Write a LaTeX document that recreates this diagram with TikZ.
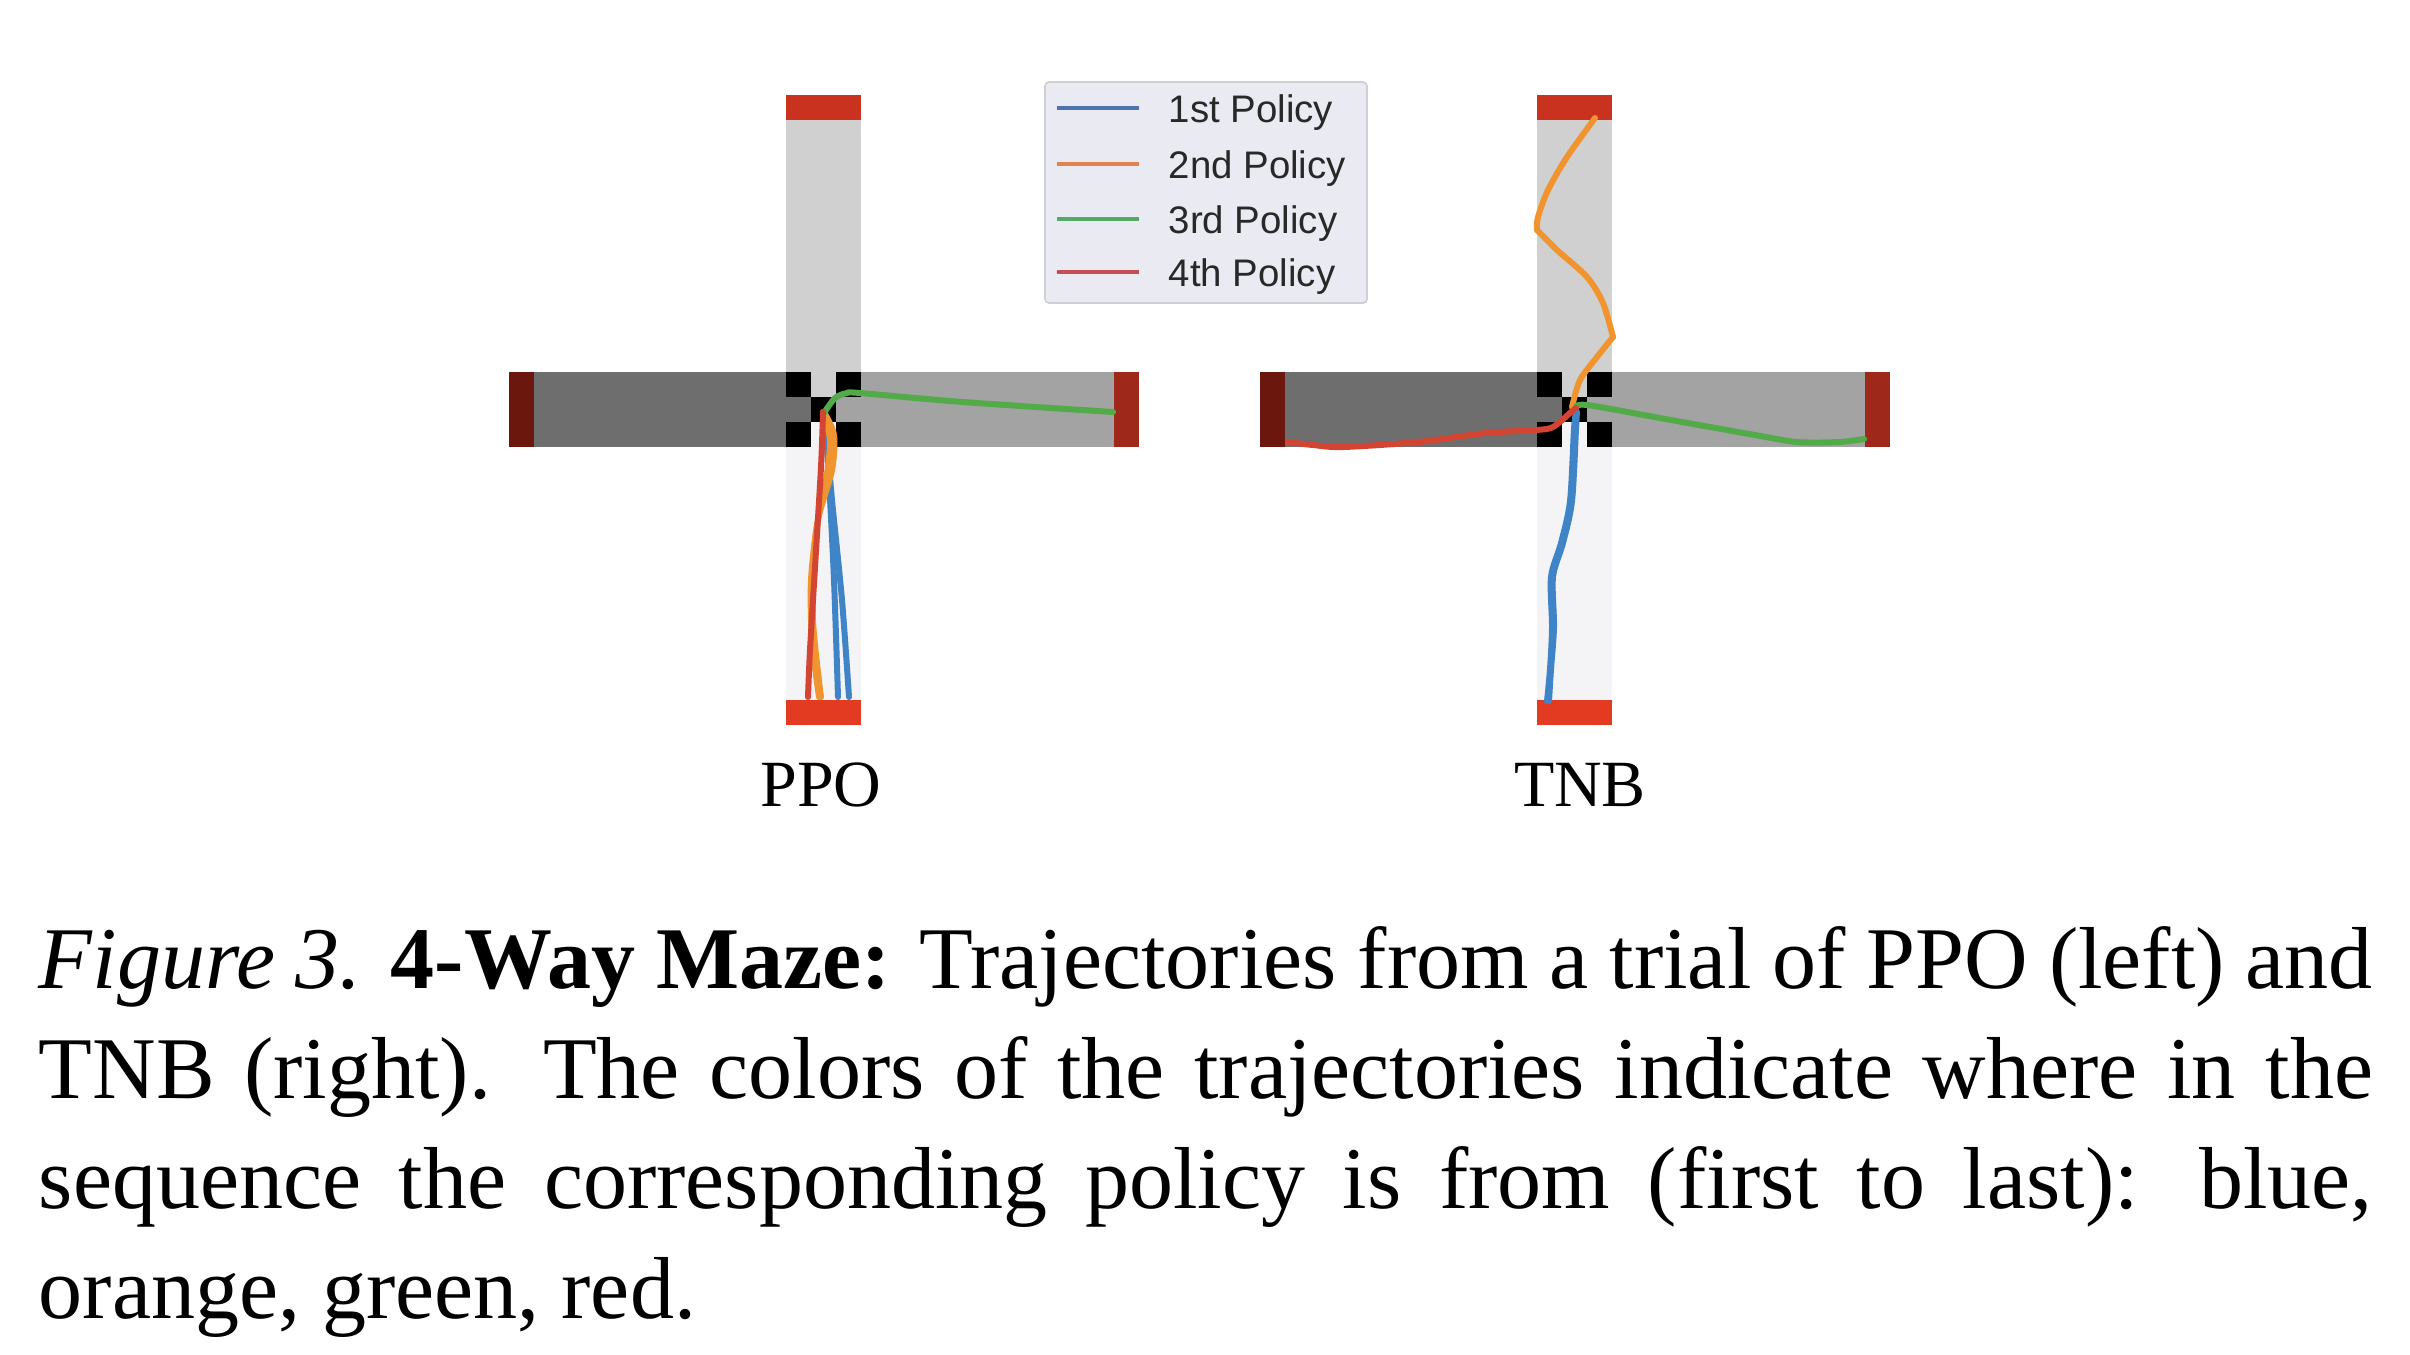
\documentclass[tikz,border=0pt]{standalone}
\usepackage{fontspec}
\setmainfont{Liberation Serif}
\newfontfamily\legendfont{Liberation Sans}
\usetikzlibrary{positioning}

% maze colours
\definecolor{captop}{RGB}{201,50,31}
\definecolor{capleft}{RGB}{107,23,13}
\definecolor{capright}{RGB}{158,40,25}
\definecolor{capbot}{RGB}{227,58,34}
\definecolor{armtop}{RGB}{208,208,208}
\definecolor{armleft}{RGB}{110,110,110}
\definecolor{armright}{RGB}{163,163,163}
\definecolor{armbot}{RGB}{244,244,246}
% policy colours
\definecolor{polA}{RGB}{62,132,198}
\definecolor{polB}{RGB}{240,148,48}
\definecolor{polC}{RGB}{82,170,72}
\definecolor{polD}{RGB}{212,68,50}
\definecolor{legA}{RGB}{76,114,176}
\definecolor{legB}{RGB}{221,132,82}
\definecolor{legC}{RGB}{85,168,104}
\definecolor{legD}{RGB}{196,78,82}
\definecolor{legbg}{RGB}{234,234,242}
\definecolor{legedge}{RGB}{206,206,212}

% one 4-way maze, drawn round the origin
\newcommand{\mazecross}{%
  \fill[armtop]   (-37.5,-290) rectangle (37.5,-37.5);
  \fill[armbot]   (-37.5,37.5) rectangle (37.5,290);
  \fill[armleft]  (-290,-37.5) rectangle (-37.5,37.5);
  \fill[armright] (37.5,-37.5) rectangle (290,37.5);
  \fill[captop]   (-37.5,-315) rectangle (37.5,-290);
  \fill[capbot]   (-37.5,290) rectangle (37.5,315);
  \fill[capleft]  (-315,-37.5) rectangle (-290,37.5);
  \fill[capright] (290,-37.5) rectangle (315,37.5);
  \fill[armtop]   (-12.5,-37.5) rectangle (12.5,-12.5);
  \fill[armbot]   (-12.5,12.5) rectangle (12.5,37.5);
  \fill[armleft]  (-37.5,-12.5) rectangle (-12.5,12.5);
  \fill[armright] (12.5,-12.5) rectangle (37.5,12.5);
  \foreach \i/\j in {-1/-1, 1/-1, 0/0, -1/1, 1/1}
    \fill[black] (\i*25-12.5,\j*25-12.5) rectangle ++(25,25);
}

\begin{document}
\begin{tikzpicture}[
  x=0.25pt, y=-0.25pt,
  traj/.style    = {line width=1.5pt, line cap=round, line join=round},
  legline/.style = {line width=1pt},
  legtext/.style = {anchor=base west, inner sep=0pt, text={rgb,255:red,40;green,40;blue,40},
                    font=\legendfont\fontsize{9.6}{11}\selectfont},
  title/.style   = {anchor=base, inner sep=0pt, font=\fontsize{16.5}{20}\selectfont},
]
  \useasboundingbox[fill=white] (0,0) rectangle (2410,1354);

  % mazes
  \begin{scope}[shift={(823.5,409.5)}]
    \mazecross
  \end{scope}
  \begin{scope}[shift={(1574.5,409.5)}]
    \mazecross
  \end{scope}

  % PPO trajectories
  \draw[traj, polA] plot[smooth] coordinates {(826,430) (829,480) (834,580) (838,697)};
  \draw[traj, polA] plot[smooth] coordinates {(826,430) (832,500) (842,600) (849,697)};
  \draw[traj, polB] plot[smooth] coordinates {(824,412) (834,435) (832,470) (818,520) (811,580) (812,640) (819,697)};
  \draw[traj, polB] plot[smooth] coordinates {(823,412) (830,440) (826,480) (815,540) (813,620) (821,697)};
  \draw[traj, polC] plot[smooth] coordinates {(824,413) (835,398) (847,393) (860,393) (963,402) (1113,412)};
  \draw[traj, polD] plot[smooth] coordinates {(823,412) (821,467) (815,567) (810,650) (808,697)};

  % TNB trajectories
  \draw[traj, polA] plot[smooth] coordinates {(1576,412) (1574,429) (1570,501) (1561,543) (1551,577) (1552,627) (1550,669) (1547,701)};
  \draw[traj, polA] plot[smooth] coordinates {(1577,412) (1576,429) (1572,501) (1563,543) (1553,577) (1554,627) (1551,669) (1549,701)};
  \draw[traj, polB] plot[smooth] coordinates {(1595,118) (1567,157) (1548,190) (1538,217) (1537,230)};
  \draw[traj, polB] plot[smooth] coordinates {(1537,230) (1557,250) (1587,277) (1603,303) (1613,337)};
  \draw[traj, polB] plot[smooth] coordinates {(1613,337) (1597,357) (1580,380) (1572,407)};
  \draw[traj, polC] plot[smooth] coordinates {(1576,408) (1587,405) (1671,420) (1755,435) (1797,442) (1839,442) (1864,439)};
  \draw[traj, polD] plot[smooth] coordinates {(1576,408) (1570,413) (1553,427) (1536,430) (1486,433) (1418,442) (1343,447) (1313,445) (1288,442)};

  % legend
  \draw[legedge, fill=legbg, rounded corners=1pt] (1045,82) rectangle (1367,303);
  \foreach \y/\c/\t [count=\k] in {108/legA/1st, 164/legB/2nd, 219/legC/3rd, 272/legD/4th} {
    \draw[legline, \c] (1057,\y) -- (1139,\y);
    \node[legtext] (leg\k) at (1168,\y+14) {\t\ Policy};
  }

  % titles
  \node[title] (ppo) at (821,806)  {PPO};
  \node[title] (tnb) at (1580,806) {TNB};

  % caption
  \node[anchor=base west, inner sep=0pt, text width=583.5pt, align=justify,
        font=\fontsize{22}{27.5}\selectfont] (caption) at (38,988)
    {\textit{Figure 3.} \textbf{4-Way Maze:} Trajectories from a trial of PPO (left) and\linebreak
     TNB (right).  The colors of the trajectories indicate where in the\linebreak
     sequence the corresponding policy is from (first to last):  blue,\linebreak
     orange, green, red.};
\end{tikzpicture}
\end{document}
